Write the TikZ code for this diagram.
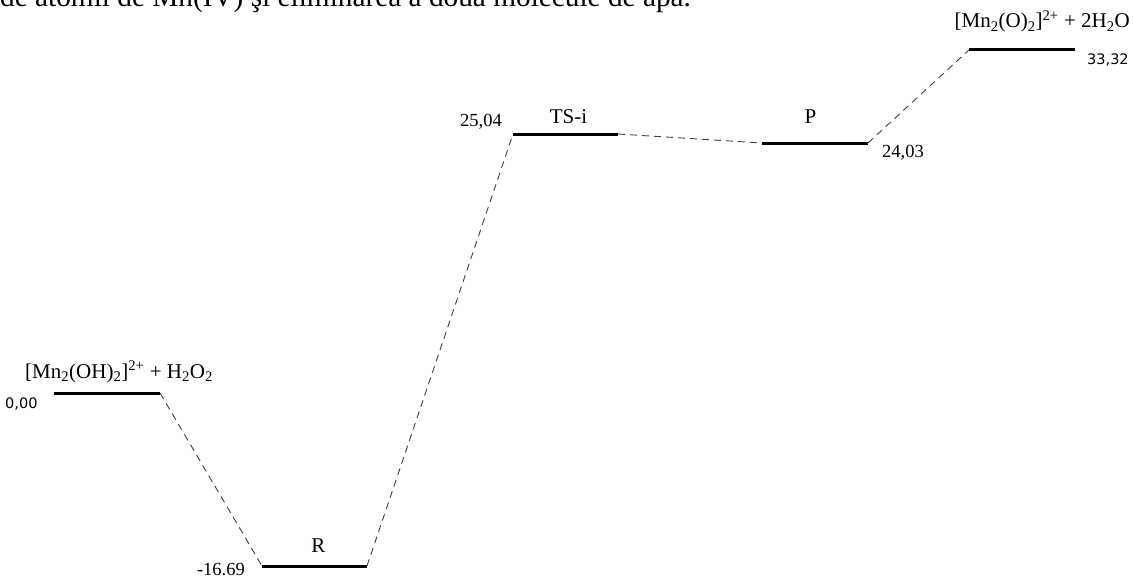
\documentclass[tikz,border=0pt]{standalone}
\usepackage{fontspec}
\setmainfont{Liberation Serif}
\newfontfamily\numsans{DejaVu Sans}
\begin{document}
\begin{tikzpicture}[x=1pt,y=-1pt,
  level/.style={line width=3pt},
  conn/.style={dashed,dash pattern=on 7pt off 5pt,line width=0.9pt,black!75},
  lbl/.style={inner sep=0pt,font=\fontsize{21}{24}\selectfont},
  numser/.style={inner sep=0pt,font=\fontsize{18.5}{21}\selectfont},
  numsf/.style={inner sep=0pt,font=\numsans\fontsize{14.5}{17}\selectfont}]
\useasboundingbox (0,0) rectangle (1133,578);
% clipped caption line at top
\node[inner sep=0pt,font=\fontsize{29.3}{33}\selectfont,anchor=base west] (cap) at (0,7) {de atomii de Mn(IV) şi eliminarea a două molecule de apă.};
% level end points
\coordinate (A1) at (54,393);  \coordinate (A2) at (160,393);
\coordinate (R1) at (262,566); \coordinate (R2) at (367,566);
\coordinate (T1) at (513,134); \coordinate (T2) at (618,134);
\coordinate (P1) at (762,143); \coordinate (P2) at (868,143);
\coordinate (F1) at (969,50);  \coordinate (F2) at (1075,50);
% levels
\draw[level] (A1) -- (A2);
\draw[level] (R1) -- (R2);
\draw[level] (T1) -- (T2);
\draw[level] (P1) -- (P2);
\draw[level] (F1) -- (F2);
% connectors
\draw[conn] (A2) -- (R1);
\draw[conn] (R2) -- (T1);
\draw[conn] (T2) -- (P1);
\draw[conn] (P2) -- (F1);
% labels
\node[lbl,anchor=base west] (la) at (25,378) {[Mn\textsubscript{2}(OH)\textsubscript{2}]\textsuperscript{2+} + H\textsubscript{2}O\textsubscript{2}};
\node[lbl,anchor=base] (lr) at (318.5,552) {R};
\node[lbl,anchor=base] (lt) at (568.5,123) {TS-i};
\node[lbl,anchor=base] (lp) at (810.5,123) {P};
\node[lbl,anchor=base east] (lf) at (1130,28) {[Mn\textsubscript{2}(O)\textsubscript{2}]\textsuperscript{2+} + 2H\textsubscript{2}O};
% energies
\node[numsf,anchor=base west] (ea) at (5,408) {0,00};
\node[numser,anchor=base east] (er) at (245,575) {-16.69};
\node[numser,anchor=base east] (et) at (502,126) {25,04};
\node[numser,anchor=base west] (ep) at (882,157) {24,03};
\node[numsf,anchor=base west] (ef) at (1087,65) {33,32};
\end{tikzpicture}
\end{document}
